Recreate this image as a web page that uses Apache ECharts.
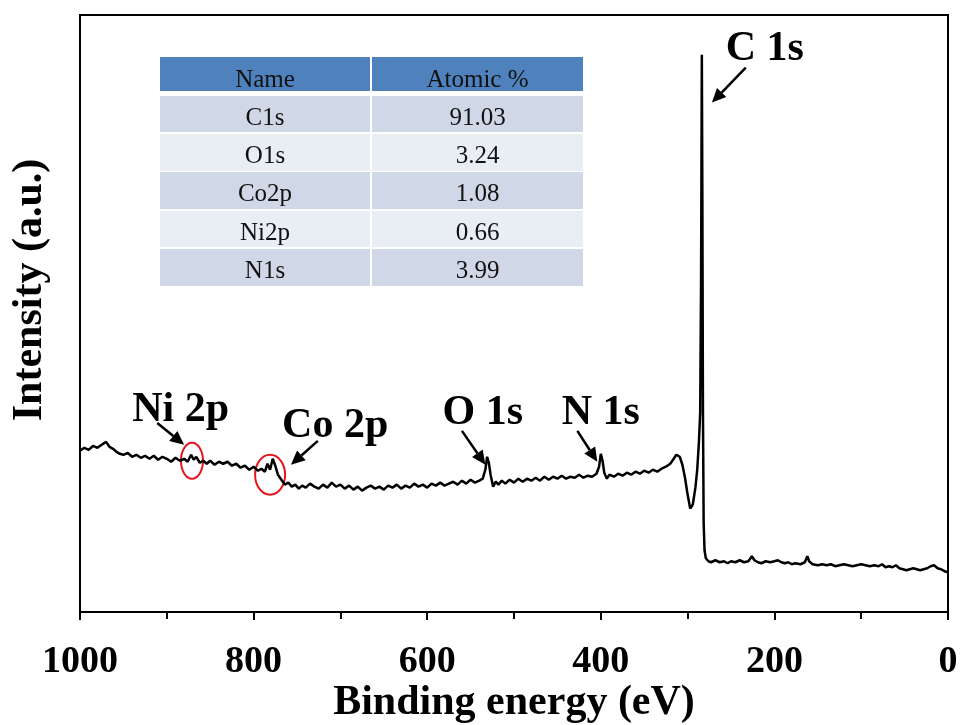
<!DOCTYPE html>
<html>
<head>
<meta charset="utf-8">
<script src="https://cdn.jsdelivr.net/npm/echarts@6/dist/echarts.min.js"></script>
<style>
  html, body { margin: 0; padding: 0; background: #fff; }
  #main { width: 963px; height: 725px; }
</style>
</head>
<body>
<div id="main"></div>
<script>
// XPS survey spectrum (binding energy in eV, intensity in arbitrary units)
var energy = [
  1000, 995, 990, 985, 980, 975, 970, 966, 962, 958, 954, 950, 945, 940, 935, 930, 925, 920, 915, 910,
  905, 900, 895, 890, 885, 880, 876, 872, 869, 866, 862, 858, 854, 850, 845, 840, 835, 830, 825, 820,
  815, 810, 805, 800, 795, 791, 787, 784, 781, 778, 775, 772, 768, 764, 760, 756, 752, 748, 744, 740,
  735, 730, 725, 720, 715, 710, 705, 700, 695, 690, 685, 680, 675, 670, 665, 660, 655, 650, 645, 640,
  635, 630, 625, 620, 615, 610, 605, 600, 595, 590, 585, 580, 575, 570, 565, 560, 555, 550, 545, 540,
  536, 533, 531, 529, 527, 524, 521, 518, 514, 510, 505, 500, 495, 490, 485, 480, 475, 470, 465, 460,
  455, 450, 445, 440, 435, 430, 425, 420, 415, 410, 405, 402, 400, 398, 396, 393, 390, 385, 380, 375,
  370, 365, 360, 355, 350, 345, 340, 335, 330, 325, 320, 316, 313, 311, 309, 306, 303, 300, 297, 294,
  291, 289, 287, 285.5, 284.5, 283.6, 283, 282.3, 281.5, 280.5, 279, 276, 273, 268, 263, 258, 254, 250, 245, 240,
  235, 230, 226, 223, 219, 215, 210, 205, 200, 196, 192, 188, 184, 180, 176, 170, 165, 162, 160, 156,
  150, 145, 140, 135, 130, 125, 120, 115, 110, 105, 100, 95, 90, 85, 80, 76, 72, 68, 64, 60,
  56, 52, 48, 44, 40, 36, 32, 28, 24, 20, 16, 12, 8, 4, 0
];
var intensity = [
  162, 165, 163, 167, 165, 168, 171, 166, 164, 161, 159, 158, 160, 156, 158, 155, 157, 154, 157, 153,
  156, 154, 151, 155, 152, 154, 151, 158, 153, 156, 150, 152, 149, 152, 148, 151, 149, 151, 147, 149,
  145, 147, 143, 146, 142, 144, 141, 149, 143, 154, 147, 138, 133, 128, 130, 126, 128, 124, 127, 125,
  129, 126, 124, 128, 125, 130, 126, 128, 124, 127, 123, 126, 122, 125, 127, 124, 126, 123, 127, 125,
  128, 124, 127, 125, 129, 126, 128, 125, 129, 127, 130, 127, 129, 131, 128, 132, 129, 133, 130, 132,
  134, 143, 156, 150, 138, 126, 131, 128, 132, 129, 133, 130, 134, 131, 134, 132, 135, 132, 136, 133,
  136, 134, 137, 134, 136, 135, 138, 135, 137, 136, 139, 146, 159, 152, 140, 134, 138, 136, 139, 137,
  140, 138, 141, 139, 142, 140, 143, 141, 144, 146, 149, 154, 158, 160, 156, 148, 135, 118, 104, 108,
  125, 142, 170, 200, 330, 560, 420, 200, 90, 62, 54, 51, 50, 52, 50, 51, 49, 51, 50, 52,
  50, 51, 56, 52, 50, 49, 51, 50, 51, 52, 50, 49, 50, 48, 49, 48, 50, 56, 51, 48,
  47, 48, 47, 48, 46, 47, 48, 47, 46, 47, 48, 47, 46, 47, 46, 48, 45, 46, 45, 47,
  44, 43, 42, 43, 44, 43, 42, 43, 44, 46, 47, 44, 43, 41, 40
];
var xTicks = [0, 200, 400, 600, 800, 1000];

// inset table
var tableHead = ['Name', 'Atomic %'];
var tableNames = ['C1s', 'O1s', 'Co2p', 'Ni2p', 'N1s'];
var tableValues = ['91.03', '3.24', '1.08', '0.66', '3.99'];

// peak annotations: label position, arrow start/end (all in data coords)
var annotations = [
  { text: 'Ni 2p', at: [884, 203], from: [911, 190], to: [880, 168] },
  { text: 'Co 2p', at: [706, 187], from: [726, 172], to: [757, 148] },
  { text: 'O 1s', at: [536, 200], from: [560, 182], to: [533, 148] },
  { text: 'N 1s', at: [400, 200], from: [427, 182], to: [404, 151] },
  { text: 'C 1s', at: [211, 566], from: [233, 547], to: [272, 512] }
];
// red circles around the weak Ni and Co peaks
var circles = [
  { at: [871, 152], rx: 11, ry: 18 },
  { at: [781, 138], rx: 15, ry: 20 }
];

var serif = '"Liberation Serif", "Times New Roman", serif';
var spectrum = energy.map(function (e, i) { return [e, intensity[i]]; });

var chart = echarts.init(document.getElementById('main'));
chart.setOption({
  backgroundColor: '#fff',
  animation: false,
  grid: {
    left: 80, right: 15, top: 15, bottom: 113,
    outerBoundsMode: 'none',
    containLabel: false,
    show: true, borderColor: '#000', borderWidth: 2
  },
  xAxis: {
    type: 'value',
    inverse: true,
    min: 0,
    max: 1000,
    interval: 200,
    name: 'Binding energy (eV)',
    nameLocation: 'middle',
    nameGap: 70,
    nameMoveOverlap: false,
    nameTextStyle: { fontFamily: serif, fontWeight: 'bold', fontSize: 42, color: '#000' },
    axisLine: { lineStyle: { color: '#000', width: 2 } },
    axisTick: { show: true, inside: false, length: 8, lineStyle: { color: '#000', width: 2 } },
    minorTick: { show: true, splitNumber: 2, length: 7, lineStyle: { color: '#000', width: 2 } },
    splitLine: { show: false },
    axisLabel: {
      margin: 31,
      fontFamily: serif, fontWeight: 'bold', fontSize: 38, color: '#000',
      formatter: function (v) { return String(v); }
    }
  },
  yAxis: {
    type: 'value',
    min: 0,
    max: 600,
    axisLine: { show: true, lineStyle: { color: '#000', width: 2 } },
    axisTick: { show: false },
    axisLabel: { show: false },
    splitLine: { show: false }
  },
  series: [{
    type: 'line',
    data: spectrum,
    symbol: 'none',
    smooth: false,
    lineStyle: { color: '#000', width: 2.5 }
  }]
});

function px(p) { return chart.convertToPixel({ gridIndex: 0 }, p); }

var g = [];
// y axis name
g.push({
  type: 'text', x: 30, y: 290, rotation: Math.PI / 2,
  style: { text: 'Intensity (a.u.)', font: 'bold 42px ' + serif, fill: '#000', align: 'center', verticalAlign: 'middle' }
});

// table
var colX = [160, 372], colW = [210, 211];
var rowY = [57, 96, 134, 172, 211, 249], rowH = [34, 36, 37, 37, 36, 37];
for (var r = 0; r < 6; r++) {
  var cells = r === 0 ? tableHead : [tableNames[r - 1], tableValues[r - 1]];
  var fill = r === 0 ? '#4f81bd' : (r % 2 === 1 ? '#d0d8e8' : '#e9edf4');
  for (var c = 0; c < 2; c++) {
    g.push({ type: 'rect', shape: { x: colX[c], y: rowY[r], width: colW[c], height: rowH[r] }, style: { fill: fill } });
    g.push({
      type: 'text',
      style: {
        text: cells[c], x: colX[c] + colW[c] / 2, y: rowY[r] + rowH[r] / 2 + (r === 0 ? 6 : 4),
        font: '25px ' + serif, fill: '#111', align: 'center', verticalAlign: 'middle'
      }
    });
  }
}

// annotations with arrows
annotations.forEach(function (a) {
  var t = px(a.at), p0 = px(a.from), p1 = px(a.to);
  g.push({ type: 'text', style: { text: a.text, x: t[0], y: t[1], font: 'bold 42px ' + serif, fill: '#000', align: 'center', verticalAlign: 'middle' } });
  var dx = p1[0] - p0[0], dy = p1[1] - p0[1], len = Math.sqrt(dx * dx + dy * dy);
  var ux = dx / len, uy = dy / len, hl = 14, hw = 6.5;
  var bx = p1[0] - ux * hl, by = p1[1] - uy * hl;
  g.push({ type: 'line', shape: { x1: p0[0], y1: p0[1], x2: bx, y2: by }, style: { stroke: '#000', lineWidth: 2.5 } });
  g.push({
    type: 'polygon',
    shape: { points: [[p1[0], p1[1]], [bx - uy * hw, by + ux * hw], [bx + uy * hw, by - ux * hw]] },
    style: { fill: '#000' }
  });
});

circles.forEach(function (cc) {
  var p = px(cc.at);
  g.push({ type: 'ellipse', shape: { cx: p[0], cy: p[1], rx: cc.rx, ry: cc.ry }, style: { fill: 'none', stroke: '#e8141c', lineWidth: 2 } });
});

chart.setOption({ graphic: g });
</script>
</body>
</html>
